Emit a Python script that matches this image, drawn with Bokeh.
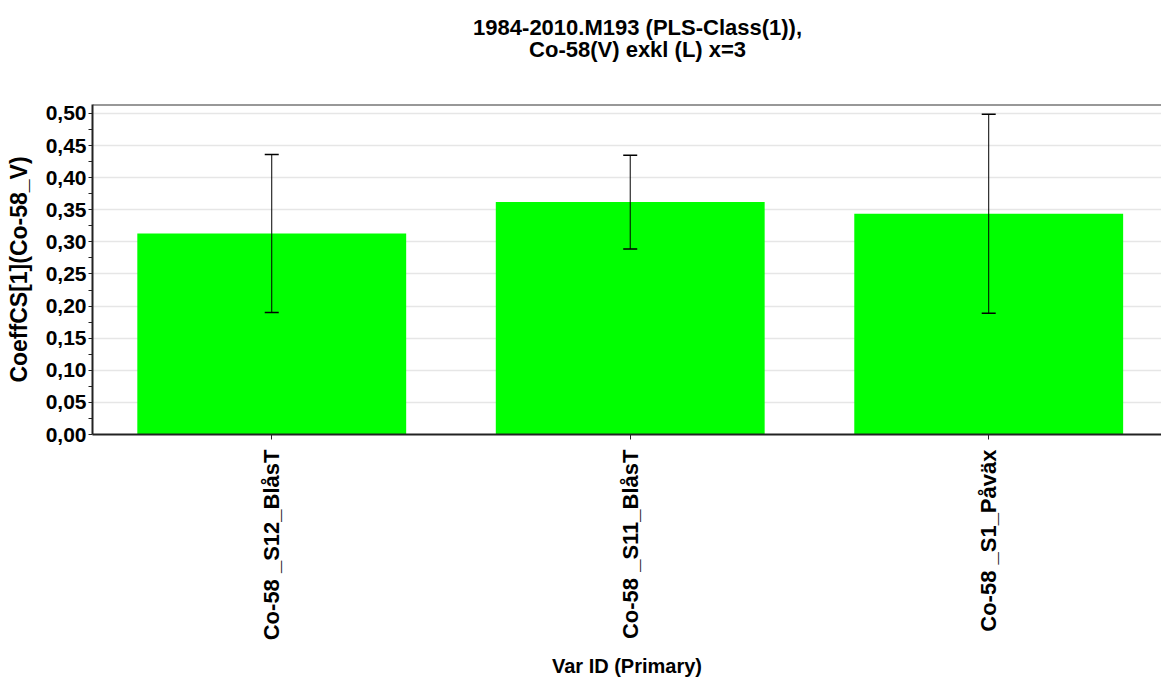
from bokeh.plotting import figure
from bokeh.layouts import column
from bokeh.models import (ColumnDataSource, Range1d, FixedTicker, Whisker, TeeHead,
                          CustomJSTickFormatter, Span)
from bokeh.core.properties import value
from bokeh.embed import file_html
from bokeh.resources import INLINE
from math import pi

# Coefficients with confidence intervals per variable
categories = ["Co-58 _S12_BlåsT", "Co-58 _S11_BlåsT", "Co-58 _S1_Påväx"]
coeff = [0.313, 0.362, 0.344]
conf_int = [0.123, 0.073, 0.155]
y_ticks = [0.00, 0.05, 0.10, 0.15, 0.20, 0.25, 0.30, 0.35, 0.40, 0.45, 0.50]
y_minor = [0.025, 0.075, 0.125, 0.175, 0.225, 0.275, 0.325, 0.375, 0.425, 0.475]

title_lines = ["1984-2010.M193 (PLS-Class(1)),", "Co-58(V) exkl (L) x=3"]

FONT = "Liberation Sans"
W = 1161
HEAD_H = 90
TOP_PAD = 14

# ---- heading strip (two centred lines) ----
head = figure(width=W, height=HEAD_H, output_backend="svg", toolbar_location=None,
              x_range=Range1d(0, W), y_range=Range1d(0, HEAD_H),
              min_border=0, title=None)
head.axis.visible = False
head.grid.visible = False
head.outline_line_color = None
head.background_fill_color = "white"
head.border_fill_color = "white"
head.text(x=[592, 592], y=[HEAD_H - 27, HEAD_H - 49], text=title_lines,
          text_align="center", text_baseline="middle",
          text_font=value(FONT), text_font_size="22px", text_font_style="bold",
          text_color="black")

# ---- bar chart ----
xpos = [i + 0.5 for i in range(len(categories))]
source = ColumnDataSource(data=dict(
    x=xpos,
    coeff=coeff,
    lower=[c - e for c, e in zip(coeff, conf_int)],
    upper=[c + e for c, e in zip(coeff, conf_int)],
))

p = figure(width=W, height=680 - HEAD_H, output_backend="svg", toolbar_location=None,
           x_range=Range1d(0, 2.982), y_range=Range1d(0, 0.514),
           min_border_left=92, min_border_right=0, min_border_top=TOP_PAD,
           min_border_bottom=244, title=None)
p.outline_line_color = None
p.background_fill_color = "white"
p.border_fill_color = "white"

p.vbar(x="x", top="coeff", bottom=0, width=0.75, source=source,
       fill_color="#00ff00", line_color=None)

whisk = Whisker(base="x", upper="upper", lower="lower", source=source,
                line_color="black", line_width=1, level="annotation",
                upper_head=TeeHead(size=14, line_color="black", line_width=1.5),
                lower_head=TeeHead(size=14, line_color="black", line_width=1.5))
p.add_layout(whisk)

# top frame edge
p.add_layout(Span(location=0.514, dimension="width", line_color="#333333", line_width=2))

# grid
p.xgrid.visible = False
p.ygrid.ticker = FixedTicker(ticks=y_ticks[1:])
p.ygrid.grid_line_color = "#e6e6e6"
p.ygrid.grid_line_width = 1.5

# y axis
ya = p.yaxis[0]
ya.ticker = FixedTicker(ticks=y_ticks, minor_ticks=y_minor)
ya.formatter = CustomJSTickFormatter(code="return tick.toFixed(2).replace('.', ',');")
ya.axis_label = "CoeffCS[1](Co-58_V)"
ya.axis_label_text_font = FONT
ya.axis_label_text_font_size = "23px"
ya.axis_label_text_font_style = "bold"
ya.axis_label_text_color = "black"
ya.axis_label_standoff = 11
ya.major_label_text_font = FONT
ya.major_label_text_font_size = "21px"
ya.major_label_text_font_style = "bold"
ya.major_label_text_color = "black"
ya.major_label_standoff = 2
ya.major_tick_out = 4
ya.major_tick_in = 0
ya.minor_tick_out = 4
ya.minor_tick_in = 0
ya.axis_line_color = "#222222"
ya.axis_line_width = 2
ya.major_tick_line_color = "#222222"
ya.minor_tick_line_color = "#222222"

# x axis
xa = p.xaxis[0]
xa.ticker = FixedTicker(ticks=xpos)
xa.major_label_overrides = {x: c for x, c in zip(xpos, categories)}
xa.major_label_orientation = pi / 2
xa.axis_label = "Var ID (Primary)"
xa.axis_label_text_font = FONT
xa.axis_label_text_font_size = "20px"
xa.axis_label_text_font_style = "bold"
xa.axis_label_text_color = "black"
xa.axis_label_standoff = 12
xa.major_label_text_font = FONT
xa.major_label_text_font_size = "22px"
xa.major_label_text_font_style = "bold"
xa.major_label_text_color = "black"
xa.major_label_standoff = 10
xa.major_tick_out = 5
xa.major_tick_in = 0
xa.minor_tick_line_color = None
xa.axis_line_color = "#222222"
xa.axis_line_width = 2
xa.major_tick_line_color = "#222222"

layout = column(head, p, spacing=0)
open("out.html", "w").write(file_html(layout, INLINE))
